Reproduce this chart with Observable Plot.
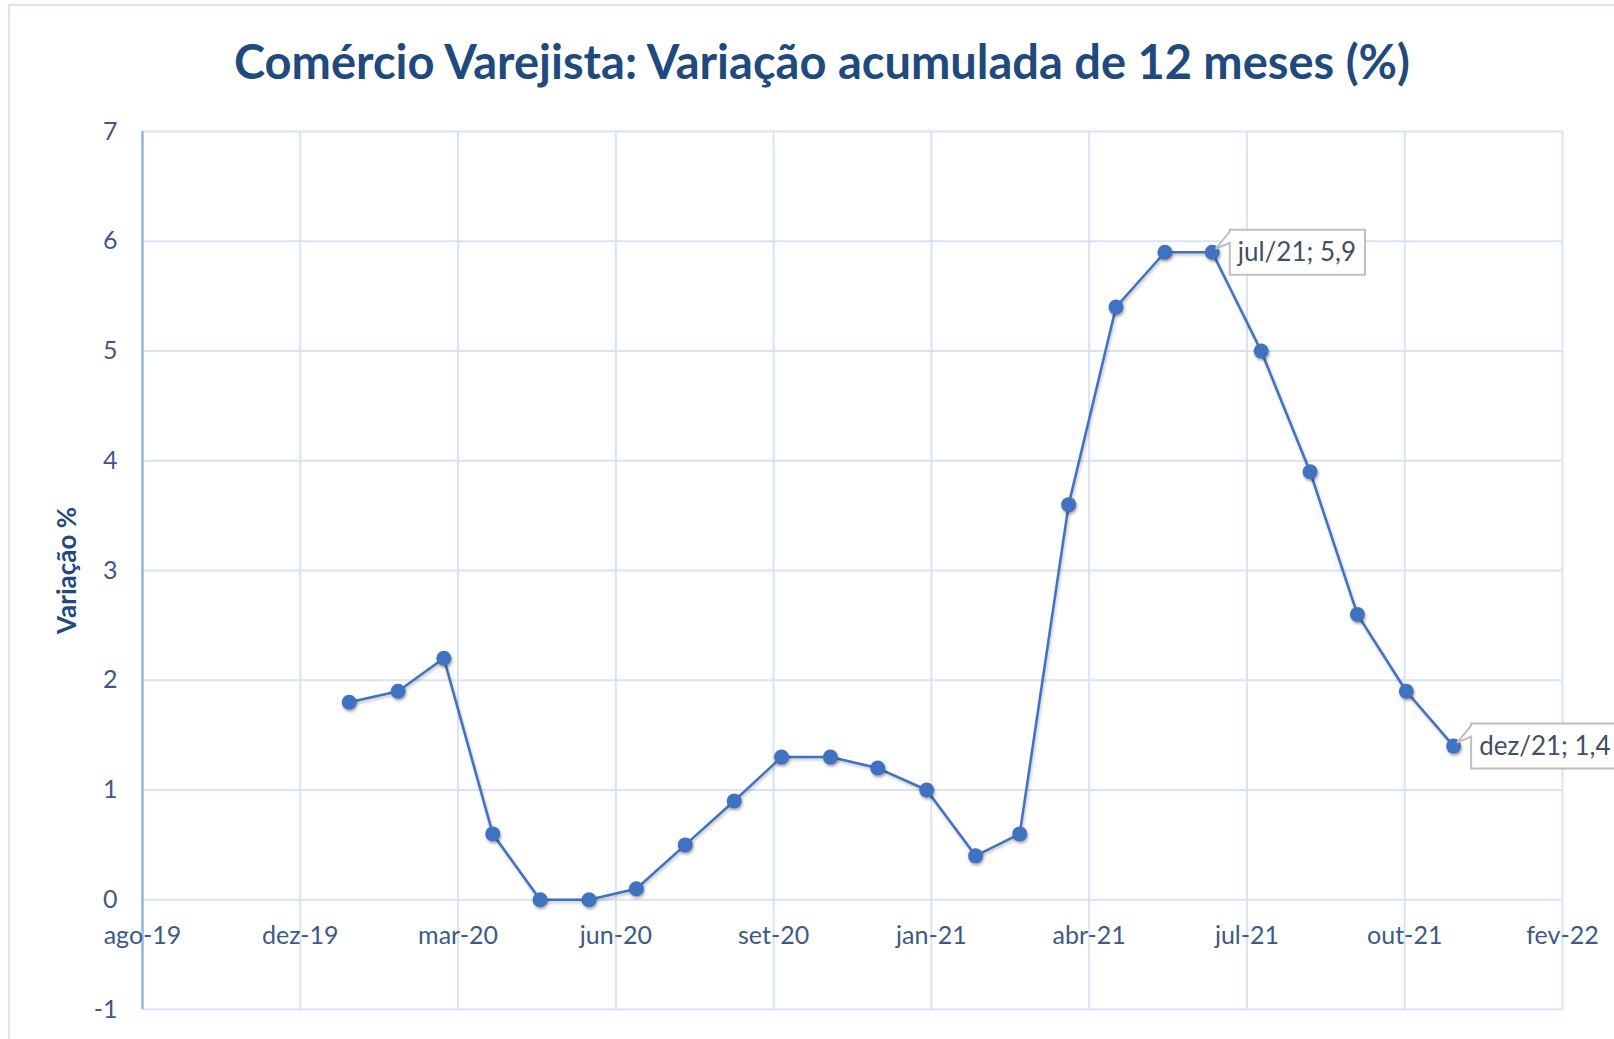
<!DOCTYPE html>
<html>
<head>
<meta charset="utf-8">
<script src="https://cdn.jsdelivr.net/npm/d3@7"></script>
<script src="https://cdn.jsdelivr.net/npm/@observablehq/plot@0.6"></script>
<style>
  html, body { margin: 0; padding: 0; background: white; }
  #chart { position: relative; width: 1614px; height: 1039px; overflow: hidden; background: white; }
  #title { position: absolute; top: 38px; left: 822px; transform: translateX(-50%); white-space: nowrap;
           font-family: Lato, "Open Sans", sans-serif; font-weight: bold; font-size: 47px; line-height: 1; color: #1f4a7e; }
  #plotwrap { position: absolute; left: 0; top: 100px; }
  #outer { position: absolute; left: 8px; top: 4px; width: 3000px; height: 3000px; border: 2px solid #d6e4f5; pointer-events: none; }
  g[aria-label="dot"] { filter: drop-shadow(1px 2px 1.5px rgba(0,0,0,0.35)); }
  g[aria-label="line"] { filter: drop-shadow(1px 2px 1.5px rgba(0,0,0,0.25)); }
</style>
</head>
<body>
<div id="chart">
  <div id="title">Comércio Varejista: Variação acumulada de 12 meses (%)</div>
  <div id="plotwrap"></div>
  <div id="outer"></div>
</div>
<script>
// ---- data ----
const months = ["2020-01","2020-02","2020-03","2020-04","2020-05","2020-06","2020-07","2020-08","2020-09","2020-10","2020-11","2020-12",
                "2021-01","2021-02","2021-03","2021-04","2021-05","2021-06","2021-07","2021-08","2021-09","2021-10","2021-11","2021-12"];
const values = [1.8, 1.9, 2.2, 0.6, 0.0, 0.0, 0.1, 0.5, 0.9, 1.3, 1.3, 1.2,
                1.0, 0.4, 0.6, 3.6, 5.4, 5.9, 5.9, 5.0, 3.9, 2.6, 1.9, 1.4];
const xTickDates = ["2019-08-23","2019-12-01","2020-03-10","2020-06-18","2020-09-26","2021-01-04","2021-04-14","2021-07-23","2021-10-31","2022-02-08"];
const xTickLabels = ["ago-19","dez-19","mar-20","jun-20","set-20","jan-21","abr-21","jul-21","out-21","fev-22"];
const yTicks = [-1, 0, 1, 2, 3, 4, 5, 6, 7];
const monthNames = ["jan","fev","mar","abr","mai","jun","jul","ago","set","out","nov","dez"];
const labelledMonths = ["2021-07", "2021-12"];

// ---- build ----
const data = months.map((m, i) => ({date: new Date(m + "-01T00:00:00Z"), month: m, value: values[i]}));
const xTicks = xTickDates.map(d => new Date(d + "T00:00:00Z"));
const callouts = data.filter(d => labelledMonths.includes(d.month)).map(d => {
  const [yy, mm] = d.month.split("-");
  return {...d, text: `${monthNames[+mm - 1]}/${yy.slice(2)}; ${String(d.value).replace(".", ",")}`};
});

const grid = "#d7e4f5";
const lineColor = "#3f72c1";
const tickColor = "#3d5a87";

const ctx = document.createElement("canvas").getContext("2d");
ctx.font = "26px Lato";

function calloutMark(index, scales) {
  const g = d3.create("svg:g");
  for (const c of callouts) {
    const px = scales.x(c.date), py = scales.y(c.value);
    const tw = ctx.measureText(c.text).width;
    const left = px + 18, top = py - 22, h = 45, w = tw + 17;
    const right = left + w, bottom = top + h;
    const tipX = px + 4, tipY = py - 3;
    g.append("path")
      .attr("d", `M${left},${top}H${right}V${bottom}H${left}V${top + 13}L${tipX},${tipY}L${left},${top + 2}Z`)
      .attr("fill", "white").attr("stroke", "#bfbfbf").attr("stroke-width", 2);
    g.append("text")
      .attr("x", left + 8).attr("y", py + 9)
      .attr("text-anchor", "start")
      .attr("font-size", 26).attr("fill", "#404f66")
      .text(c.text);
  }
  return g.node();
}

const plot = Plot.plot({
  width: 1614,
  height: 939,
  marginLeft: 142,
  marginRight: 52,
  marginTop: 31,
  marginBottom: 30,
  style: {fontFamily: "Lato, 'Open Sans', sans-serif", fontSize: "25px", color: tickColor, background: "transparent"},
  x: {type: "utc", domain: [xTicks[0], xTicks[xTicks.length - 1]], axis: null},
  y: {domain: [-1, 7], ticks: yTicks, tickSize: 0, tickPadding: 25, label: null, tickFormat: d => String(d)},
  marks: [
    Plot.ruleY(yTicks, {stroke: grid, strokeWidth: 2}),
    Plot.ruleX(xTicks, {stroke: grid, strokeWidth: 2}),
    Plot.ruleX([xTicks[0]], {stroke: "#95b8e6", strokeWidth: 2.5}),
    Plot.text(xTicks, {x: d => d, y: () => 0, text: (d, i) => xTickLabels[i], dy: 36, fontSize: 25, fill: tickColor}),
    Plot.text(["Variação %"], {frameAnchor: "left", textAnchor: "middle", text: d => d, rotate: -90, dx: -75, fontSize: 26, fontWeight: "bold", fill: "#1f4a7e"}),
    Plot.line(data, {x: "date", y: "value", stroke: lineColor, strokeWidth: 2.5}),
    Plot.dot(data, {x: "date", y: "value", r: 7.5, fill: lineColor}),
    calloutMark
  ]
});
document.getElementById("plotwrap").appendChild(plot);
</script>
</body>
</html>
